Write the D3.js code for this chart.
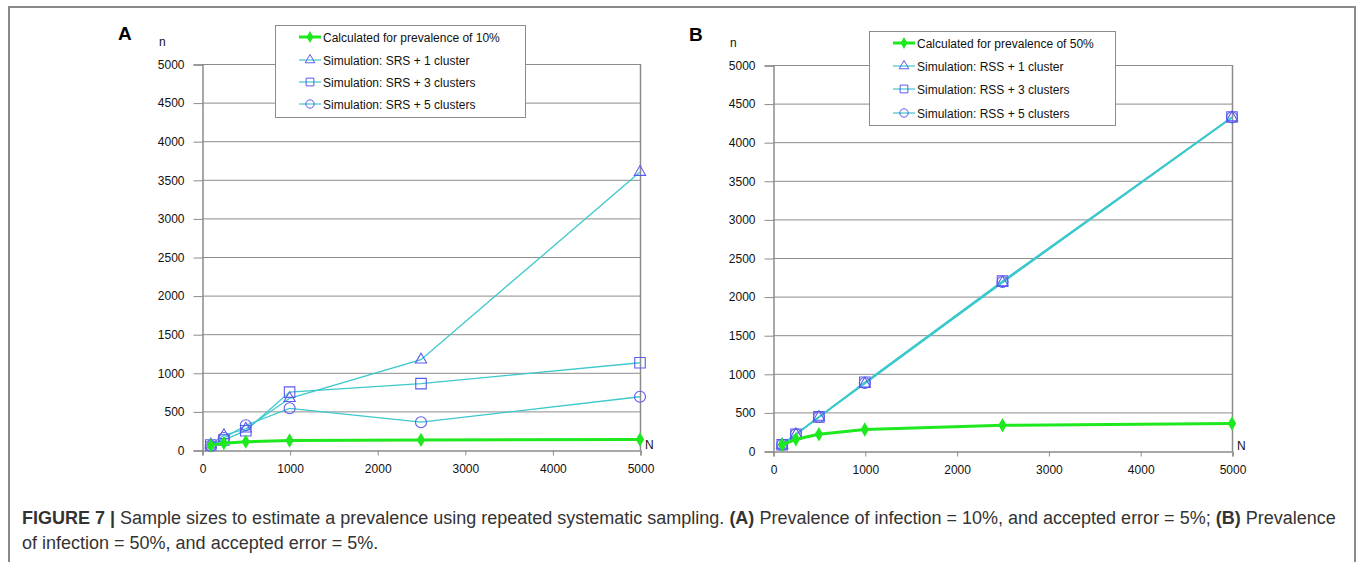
<!DOCTYPE html>
<html>
<head>
<meta charset="utf-8">
<script src="https://cdn.jsdelivr.net/npm/d3@7"></script>
<style>
  body { margin: 0; background: #fff; }
  svg { display: block; }
  .tick-label { font-family: 'Liberation Sans', Arial, sans-serif; font-size: 12px; fill: #111; }
  .legend-text { font-family: 'Liberation Sans', Arial, sans-serif; font-size: 12px; fill: #111; }
  .caption { font-family: 'Liberation Sans', Arial, sans-serif; font-size: 18px; fill: #333; }
</style>
</head>
<body>
<div id="chart"></div>
<script>
// sample size N on the x axis
const sizesN = [100, 250, 500, 1000, 2500, 5000]
// panel A, prevalence 10%
const calcA = [58, 89, 108, 122, 131, 135]
const srs1 = [70, 190, 275, 670, 1170, 3600]
const srs3 = [65, 130, 250, 750, 860, 1130]
const srs5 = [55, 155, 320, 540, 360, 690]
// panel B, prevalence 50%
const calcB = [80, 152, 218, 278, 333, 357]
const rss1 = [80, 214, 440, 872, 2182, 4318]
const rss3 = [82, 218, 442, 890, 2200, 4326]
const rss5 = [80, 216, 440, 880, 2190, 4322]
// ticks
const yTicks = [0, 500, 1000, 1500, 2000, 2500, 3000, 3500, 4000, 4500, 5000]
const xTicks = [0, 1000, 2000, 3000, 4000, 5000]
// legend labels
const legendA = ['Calculated for prevalence of 10%', 'Simulation: SRS + 1 cluster', 'Simulation: SRS + 3 clusters', 'Simulation: SRS + 5 clusters']
const legendB = ['Calculated for prevalence of 50%', 'Simulation: RSS + 1 cluster', 'Simulation: RSS + 3 clusters', 'Simulation: RSS + 5 clusters']

const width = 1363
const height = 562
const green = '#1ee81e'
const cyan = '#3cc8cc'
const blue = '#5a5af0'
const grid = '#8c8c8c'

const svg = d3.select('#chart').append('svg').attr('width', width).attr('height', height)

// figure frame
svg.append('path')
	.attr('d', `M9,${height} V7 H1355 V${height}`)
	.attr('fill', 'none')
	.attr('stroke', '#8a8a8a')
	.attr('stroke-width', 2)

function drawPanel(opt) {
	const x = d3.scaleLinear().domain([0, 5000]).range([opt.left, opt.right])
	const y = d3.scaleLinear().domain([0, 5000]).range([opt.bottom, opt.top])
	const g = svg.append('g')

	// gridlines
	g.selectAll('.grid')
		.data(yTicks.filter(d => d > 0))
		.enter()
		.append('line')
		.attr('x1', opt.left)
		.attr('x2', opt.right)
		.attr('y1', d => y(d) + 0.5)
		.attr('y2', d => y(d) + 0.5)
		.attr('stroke', grid)
		.attr('stroke-width', 1)
	// right border
	g.append('line')
		.attr('x1', opt.right + 0.5).attr('x2', opt.right + 0.5)
		.attr('y1', opt.top).attr('y2', opt.bottom)
		.attr('stroke', grid).attr('stroke-width', 1.5)

	// y axis
	const yAxis = g.append('g')
		.attr('transform', `translate(${opt.left + 0.5},0.5)`)
		.call(d3.axisLeft(y).tickValues(yTicks).tickSize(9).tickPadding(9).tickFormat(d3.format('d')))
	yAxis.select('.domain').attr('stroke', grid).attr('stroke-width', 1.5)
	yAxis.selectAll('.tick line').attr('stroke', grid)
	yAxis.selectAll('text').attr('class', 'tick-label').attr('font-family', null).attr('font-size', null)

	// x axis
	const xAxis = g.append('g')
		.attr('transform', `translate(0.5,${opt.bottom + 0.5})`)
		.call(d3.axisBottom(x).tickValues(xTicks).tickSize(5).tickPadding(9).tickFormat(d3.format('d')))
	xAxis.select('.domain').attr('stroke', grid).attr('stroke-width', 1.5)
	xAxis.selectAll('.tick line').attr('stroke', grid)
	xAxis.selectAll('text').attr('class', 'tick-label').attr('font-family', null).attr('font-size', null)

	// panel letter and axis names
	g.append('text').attr('x', opt.left - 84).attr('y', opt.top - 24)
		.attr('font-family', 'Liberation Sans, Arial, sans-serif').attr('font-weight', 'bold').attr('font-size', 19)
		.text(opt.letter)
	g.append('text').attr('x', opt.left - 43).attr('y', opt.top - 18)
		.attr('class', 'tick-label').text('n')
	g.append('text').attr('x', opt.right + 5).attr('y', opt.bottom - 1)
		.attr('class', 'tick-label').text('N')

	const line = d3.line().x((d, i) => x(sizesN[i])).y(d => y(d))

	// simulation series
	const sims = [
		{ values: opt.sims[0], shape: d3.symbolTriangle, size: 55 },
		{ values: opt.sims[1], shape: d3.symbolSquare, size: 110 },
		{ values: opt.sims[2], shape: d3.symbolCircle, size: 95 },
	]
	sims.forEach(s => {
		g.append('path').datum(s.values)
			.attr('d', line)
			.attr('fill', 'none')
			.attr('stroke', cyan)
			.attr('stroke-width', opt.simWidth)
	})
	sims.forEach(s => {
		g.selectAll(null)
			.data(s.values)
			.enter()
			.append('path')
			.attr('transform', (d, i) => `translate(${x(sizesN[i])},${y(d)})`)
			.attr('d', d3.symbol().type(s.shape).size(s.size))
			.attr('fill', 'none')
			.attr('stroke', blue)
			.attr('stroke-width', 1.1)
	})

	// calculated series
	g.append('path').datum(opt.calc)
		.attr('d', line)
		.attr('fill', 'none')
		.attr('stroke', green)
		.attr('stroke-width', 3)
	g.selectAll(null)
		.data(opt.calc)
		.enter()
		.append('path')
		.attr('transform', (d, i) => `translate(${x(sizesN[i])},${y(d)})`)
		.attr('d', d3.symbol().type(d3.symbolDiamond).size(60))
		.attr('fill', green)

	// legend
	const lg = g.append('g').attr('transform', `translate(${opt.legX},${opt.legY})`)
	lg.append('rect')
		.attr('x', 0.5).attr('y', 0.5)
		.attr('width', opt.legW).attr('height', opt.legH)
		.attr('fill', '#fff')
		.attr('stroke', '#8c8c8c')
	const legendShapes = [
		{ shape: d3.symbolDiamond, size: 40, stroke: green, fill: green, lw: 3 },
		{ shape: d3.symbolTriangle, size: 40, stroke: cyan, fill: 'none', lw: 1.2 },
		{ shape: d3.symbolSquare, size: 60, stroke: cyan, fill: 'none', lw: 1.2 },
		{ shape: d3.symbolCircle, size: 55, stroke: cyan, fill: 'none', lw: 1.2 },
	]
	opt.legend.forEach((label, i) => {
		const row = lg.append('g').attr('transform', `translate(0,${opt.legRows[i]})`)
		const ls = legendShapes[i]
		row.append('line').attr('x1', 24).attr('x2', 46).attr('y1', 0).attr('y2', 0)
			.attr('stroke', ls.stroke).attr('stroke-width', ls.lw)
		row.append('path').attr('transform', 'translate(35,0)')
			.attr('d', d3.symbol().type(ls.shape).size(ls.size))
			.attr('fill', ls.fill)
			.attr('stroke', i === 0 ? green : blue)
			.attr('stroke-width', i === 0 ? 0 : 1)
		row.append('text').attr('class', 'legend-text').attr('x', 48).attr('y', 4.5).text(label)
	})
}

drawPanel({
	letter: 'A', left: 202, right: 640, top: 64, bottom: 450,
	calc: calcA, sims: [srs1, srs3, srs5], simWidth: 1.3,
	legend: legendA, legX: 275, legY: 25, legW: 250, legH: 92, legRows: [12, 35, 57, 79],
})
drawPanel({
	letter: 'B', left: 773, right: 1232, top: 65, bottom: 451,
	calc: calcB, sims: [rss1, rss3, rss5], simWidth: 1.6,
	legend: legendB, legX: 869, legY: 31, legW: 246, legH: 94, legRows: [12, 35, 58, 82],
})

// caption
const cap1 = svg.append('text').attr('class', 'caption').attr('x', 22).attr('y', 524)
cap1.append('tspan').attr('font-weight', 'bold').text('FIGURE 7 | ')
cap1.append('tspan').text('Sample sizes to estimate a prevalence using repeated systematic sampling. ')
cap1.append('tspan').attr('font-weight', 'bold').text('(A)')
cap1.append('tspan').text(' Prevalence of infection = 10%, and accepted error = 5%; ')
cap1.append('tspan').attr('font-weight', 'bold').text('(B)')
cap1.append('tspan').text(' Prevalence')
svg.append('text').attr('class', 'caption').attr('x', 22).attr('y', 549)
	.text('of infection = 50%, and accepted error = 5%.')
</script>
</body>
</html>
